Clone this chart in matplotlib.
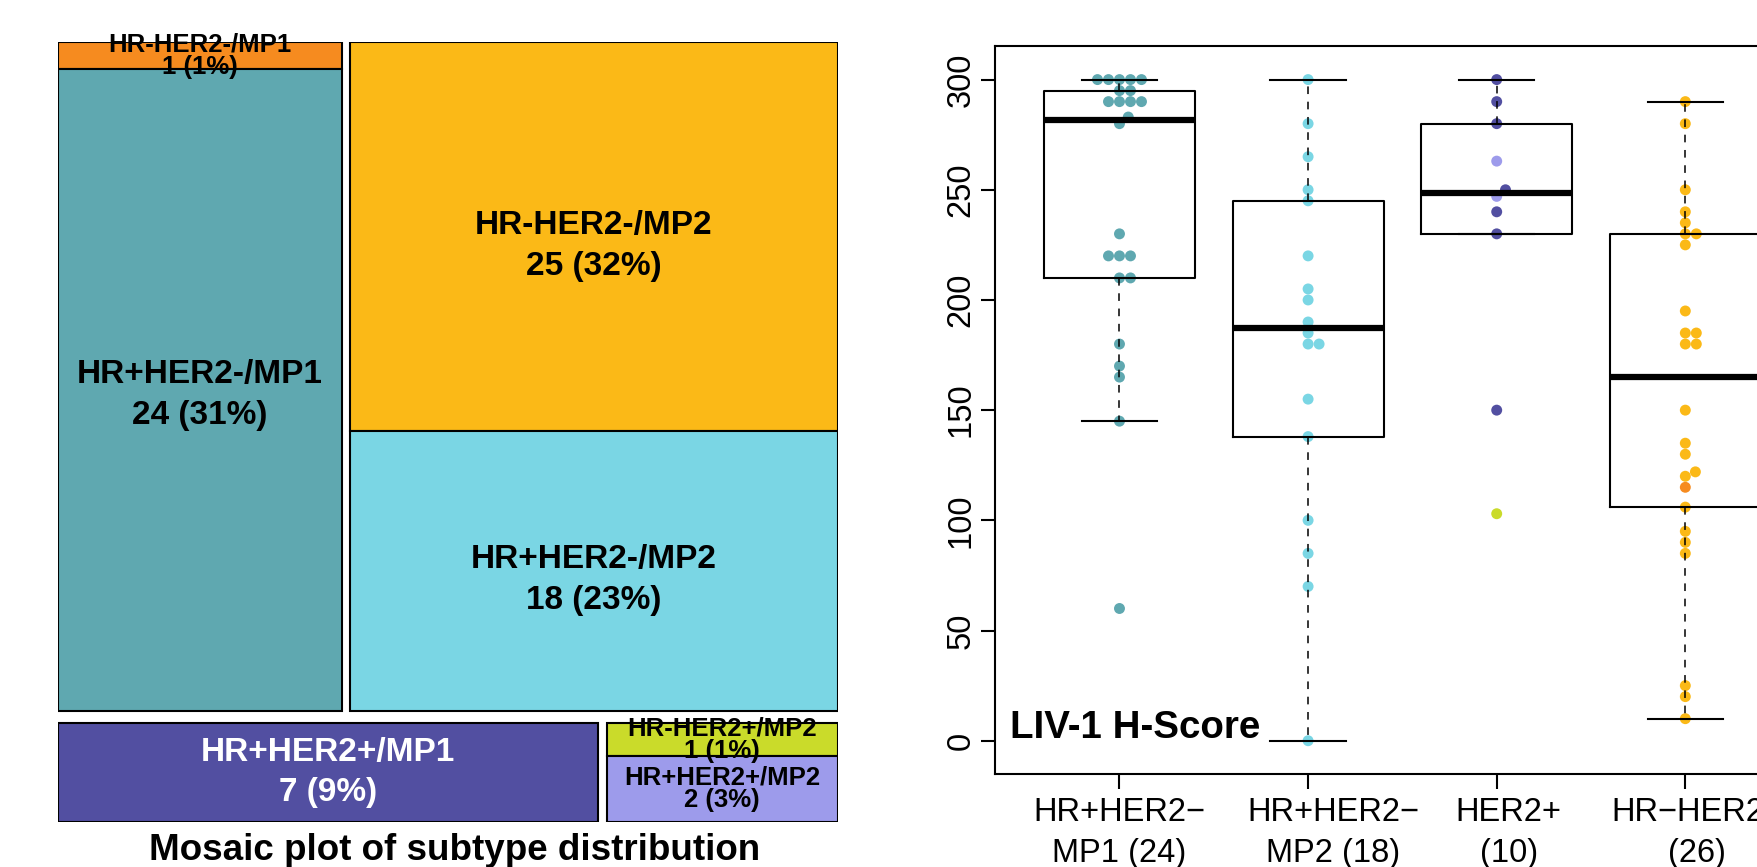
import numpy as np
import matplotlib
matplotlib.use("Agg")
import matplotlib.pyplot as plt
from matplotlib.patches import Rectangle
from matplotlib.transforms import blended_transform_factory, offset_copy

plt.rcParams['font.family'] = ['Liberation Sans', 'DejaVu Sans']

# ---------------- data ----------------
# mosaic: counts[mp][hr] for each HER2 level
her2_levels = ["HER2-", "HER2+"]
mp_levels = ["MP1", "MP2"]
hr_levels = ["HR-", "HR+"]
counts_her2_neg = [[1, 24], [25, 18]]
counts_her2_pos = [[0, 7], [1, 2]]

subtype_colors = {
    "HR-HER2-/MP1": "#F68B1F",
    "HR+HER2-/MP1": "#5FA8B0",
    "HR-HER2-/MP2": "#FBB917",
    "HR+HER2-/MP2": "#7AD6E4",
    "HR+HER2+/MP1": "#524FA1",
    "HR-HER2+/MP2": "#CADB2A",
    "HR+HER2+/MP2": "#9D9BEB",
}

# LIV-1 H-scores per group
group_labels = ["HR+HER2\u2212\nMP1 (24)", "HR+HER2\u2212\nMP2 (18)",
                "HER2+\n(10)", "HR\u2212HER2\u2212\n(26)"]
hr_pos_mp1 = [300, 300, 300, 300, 300, 295, 295, 290, 290, 290, 290, 283,
              280, 230, 220, 220, 220, 210, 210, 180, 170, 165, 145, 60]
hr_pos_mp2 = [300, 280, 265, 250, 245, 220, 205, 200, 190, 185, 180, 180,
              155, 138, 100, 85, 70, 0]
her2_pos = [300, 290, 280, 263, 250, 247, 240, 230, 150, 103]
her2_pos_sub = ["HR+HER2+/MP1", "HR+HER2+/MP1", "HR+HER2+/MP1", "HR+HER2+/MP2",
                "HR+HER2+/MP1", "HR+HER2+/MP2", "HR+HER2+/MP1", "HR+HER2+/MP1",
                "HR+HER2+/MP1", "HR-HER2+/MP2"]
hr_neg = [290, 280, 250, 240, 235, 230, 230, 225, 195, 185, 185, 180, 180,
          150, 135, 130, 122, 120, 115, 106, 95, 90, 85, 25, 20, 10]
hr_neg_sub = ["HR-HER2-/MP2"] * 18 + ["HR-HER2-/MP1"] + ["HR-HER2-/MP2"] * 7

groups = [hr_pos_mp1, hr_pos_mp2, her2_pos, hr_neg]
group_subs = [["HR+HER2-/MP1"] * len(hr_pos_mp1), ["HR+HER2-/MP2"] * len(hr_pos_mp2),
              her2_pos_sub, hr_neg_sub]


def fivenum(v):
    x = np.sort(np.asarray(v, float))
    n = len(x)
    n4 = np.floor((n + 3) / 2) / 2
    d = np.array([1, n4, (n + 1) / 2, n + 1 - n4, n]) - 1
    return 0.5 * (x[np.floor(d).astype(int)] + x[np.ceil(d).astype(int)])


def box_stats(v):
    v = np.asarray(v, float)
    _, q1, med, q3, _ = fivenum(v)
    iqr = q3 - q1
    return dict(med=med, q1=q1, q3=q3,
                whislo=v[v >= q1 - 1.5 * iqr].min(),
                whishi=v[v <= q3 + 1.5 * iqr].max(), fliers=[])


def swarm(y_px, size):
    # place points one by one (ascending) as close to the centre as possible
    order = np.argsort(y_px, kind='stable')
    px_list, py_list = [], []
    out = np.zeros(len(y_px))
    for i in order:
        yi = y_px[i]
        cands = [0.0]
        for px, py in zip(px_list, py_list):
            dy = yi - py
            if abs(dy) < size:
                dx = np.sqrt(size ** 2 - dy ** 2)
                cands += [px - dx, px + dx]
        good = [c for c in cands
                if all((c - px) ** 2 + (yi - py) ** 2 >= size ** 2 - 1e-6
                       for px, py in zip(px_list, py_list))]
        best = min(good, key=lambda c: (round(abs(c), 6), -c))
        out[i] = best
        px_list.append(best)
        py_list.append(yi)
    return out


# ---------------- figure ----------------
W, H = 1758, 867
fig = plt.figure(figsize=(W / 100, H / 100), dpi=100)

# ---- mosaic ----
ax_m = fig.add_axes([58.4 / W, 1 - 821.7 / H, 779.4 / W, 779.4 / H])
ax_m.set_xlim(0, 1)
ax_m.set_ylim(0, 1)
ax_m.axis('off')

gap_x = 8.4 / 779.4
gap_y = 12.3 / 779.4
her2_counts = [counts_her2_neg, counts_her2_pos]
total = sum(sum(sum(r) for r in b) for b in her2_counts)
# small downward nudges (px) so labels sit as in the original
label_nudge = {"HR-HER2-/MP2": 9, "HR+HER2-/MP2": 9, "HR+HER2-/MP1": 5}

y_top = 1.0
for h, her2 in enumerate(her2_levels):
    block = her2_counts[h]
    n_her2 = sum(sum(r) for r in block)
    h_her2 = (1 - gap_y) * n_her2 / total
    x_left = 0.0
    for m, mp in enumerate(mp_levels):
        n_mp = sum(block[m])
        w = (1 - gap_x) * n_mp / n_her2
        y_cell = y_top
        for r, hr in enumerate(hr_levels):
            n = block[m][r]
            if n == 0:
                continue
            hh = h_her2 * n / n_mp
            name = hr + her2 + "/" + mp
            ax_m.add_patch(Rectangle((x_left, y_cell - hh), w, hh,
                                     facecolor=subtype_colors[name],
                                     edgecolor='black', lw=1.5))
            big = n > 2
            tr = offset_copy(ax_m.transData, fig=fig, x=0,
                             y=-label_nudge.get(name, 0), units='dots')
            ax_m.text(x_left + w / 2, y_cell - hh / 2,
                      "%s\n%d (%d%%)" % (name, n, round(100 * n / total)),
                      transform=tr, ha='center', va='center', fontweight='bold',
                      fontsize=24 if big else 18.5,
                      linespacing=1.4 if big else 0.95,
                      color='white' if name == "HR+HER2+/MP1" else 'black')
            y_cell -= hh
        x_left += w + gap_x
    y_top = y_top - h_her2 - gap_y

fig.text(455 / W, 1 - 860 / H, "Mosaic plot of subtype distribution",
         ha='center', va='baseline', fontsize=26.5, fontweight='bold')

# ---- boxplot + beeswarm ----
ax = fig.add_axes([995 / W, 1 - 774.3 / H, 814.8 / W, 728.3 / H])
ax.set_xlim(0.34, 4.66)
ax.set_ylim(-15.24, 315.24)
positions = [1, 2, 3, 4]

x0, y0 = ax.transData.transform((0, 0))
x1, y1 = ax.transData.transform((1, 1))
ppu_x, ppu_y = x1 - x0, y1 - y0

for pos, vals, subs in zip(positions, groups, group_subs):
    vals = np.asarray(vals, float)
    dx = swarm(vals * ppu_y, 11.0) / ppu_x
    ax.scatter(pos + dx, vals, s=62, c=[subtype_colors[s] for s in subs],
               linewidths=0, zorder=2)

ax.bxp([box_stats(v) for v in groups], positions=positions, widths=0.8,
       capwidths=0.4, showfliers=False, manage_ticks=False,
       boxprops=dict(color='black', lw=1.5),
       medianprops=dict(color='black', lw=4.5, solid_capstyle='butt'),
       whiskerprops=dict(color='black', lw=1.1, linestyle=(0, (5, 5))),
       capprops=dict(color='black', lw=1.5), zorder=3)

for sp in ax.spines.values():
    sp.set_linewidth(1.5)

ax.set_yticks(range(0, 301, 50))
ax.tick_params(axis='y', length=10, width=1.5, labelsize=23.5,
               labelrotation=90, pad=14.5)
plt.setp(ax.get_yticklabels(), ha='center', va='center')

ax.set_xticks(positions)
ax.set_xticklabels([])
ax.tick_params(axis='x', length=10.5, width=1.5)
label_shift_px = [0, 25, 12, 12]
trans = blended_transform_factory(ax.transData, ax.transAxes)
for pos, lab, sh in zip(positions, group_labels, label_shift_px):
    ax.text(pos, 0, lab, transform=offset_copy(trans, fig=fig, x=sh, y=-23, units='dots'),
            ha='center', va='top', fontsize=23.5, linespacing=1.4, clip_on=False)

ax.text(15 / 814.8, 36.3 / 728.3, "LIV-1 H-Score", transform=ax.transAxes,
        ha='left', va='baseline', fontsize=27.7, fontweight='bold')

fig.savefig("out.png", dpi=100)
